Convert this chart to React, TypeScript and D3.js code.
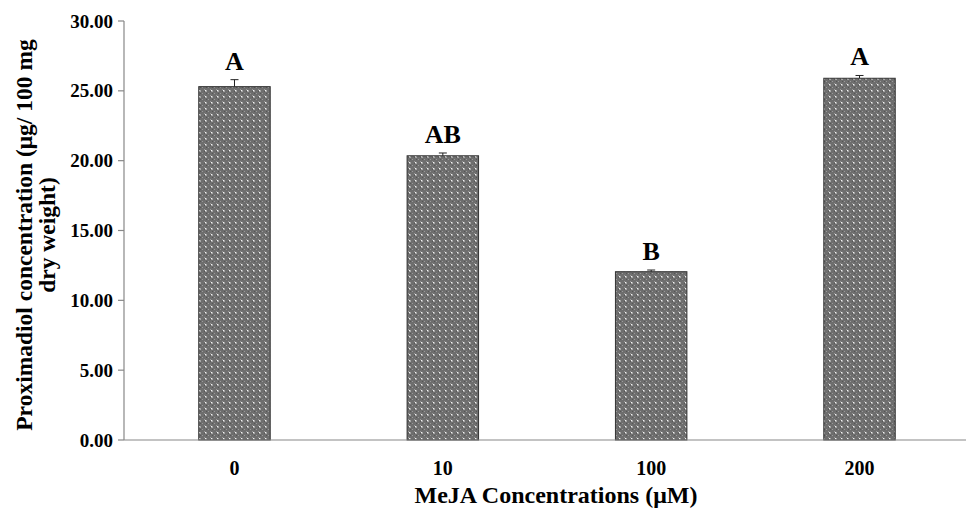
import React from "react"
import * as d3 from "d3"

const categories = ["0", "10", "100", "200"]
const means = [25.3, 20.35, 12.05, 25.9]
const errors = [0.5, 0.2, 0.12, 0.2]
const letters = ["A", "AB", "B", "A"]
const yTicks = [0, 5, 10, 15, 20, 25, 30]

const App = () => {
  const W = 971
  const H = 511
  const margin = { top: 21, right: 4, bottom: 71, left: 124 }
  const width = W - margin.left - margin.right
  const height = H - margin.top - margin.bottom

  const x = d3.scaleBand().domain(categories).range([6, width - 3]).paddingInner(0.657).paddingOuter(0.33)
  const y = d3.scaleLinear().domain([0, 30]).range([height, 0])
  const font = "'Liberation Serif', 'Times New Roman', serif"
  const axisColor = "#888"

  return (
    <svg width={W} height={H} style={{ position: "absolute", left: 0, top: 0, background: "#fff" }}>
      <defs>
        <pattern id="dots" width="6" height="6" patternUnits="userSpaceOnUse">
          <rect width="6" height="6" fill="#6e6e6e" />
          <rect x="0" y="0" width="1" height="1" fill="#9a9a9a" />
          <rect x="2" y="2" width="1" height="1" fill="#9a9a9a" />
          <rect x="4" y="4" width="1" height="1" fill="#9a9a9a" />
          <rect x="2" y="4" width="1" height="1" fill="#555" />
          <rect x="4" y="0" width="1" height="1" fill="#555" />
          <rect x="3" y="3" width="1.4" height="1.4" fill="#f4f4f4" />
        </pattern>
      </defs>
      <g transform={`translate(${margin.left},${margin.top})`}>
        {categories.map((c, i) => {
          const bx = x(c)!
          const bw = x.bandwidth()
          const cx = bx + bw / 2
          const top = y(means[i])
          const et = y(means[i] + errors[i])
          return (
            <g key={c}>
              <rect x={bx} y={top} width={bw} height={height - top} fill="url(#dots)" stroke="#333" strokeWidth={1} />
              <line x1={cx} x2={cx} y1={top} y2={et} stroke="#222" strokeWidth={1} />
              <line x1={cx - 4} x2={cx + 4} y1={et} y2={et} stroke="#222" strokeWidth={1} />
              <text x={cx} y={et - 10} textAnchor="middle" fontFamily={font} fontWeight="bold" fontSize={26}>
                {letters[i]}
              </text>
              <text x={cx} y={height + 35} textAnchor="middle" fontFamily={font} fontWeight="bold" fontSize={20}>
                {c}
              </text>
            </g>
          )
        })}
        <line x1={0} x2={0} y1={0} y2={height} stroke={axisColor} strokeWidth={1.2} />
        <line x1={0} x2={width - 1} y1={height} y2={height} stroke={axisColor} strokeWidth={1.2} />
        {yTicks.map((t) => (
          <g key={t} transform={`translate(0,${y(t)})`}>
            <line x1={-6} x2={0} stroke={axisColor} strokeWidth={1.2} />
            <text x={-11} dy="0.35em" textAnchor="end" fontFamily={font} fontWeight="bold" fontSize={19}>
              {d3.format(".2f")(t)}
            </text>
          </g>
        ))}
        <text x={556 - margin.left} y={height + 63} textAnchor="middle" fontFamily={font} fontWeight="bold" fontSize={24}>
          MeJA Concentrations (μM)
        </text>
        <text
          transform={`translate(${32 - margin.left},${235 - margin.top}) rotate(-90)`}
          textAnchor="middle"
          fontFamily={font}
          fontWeight="bold"
          fontSize={23.5}
        >
          <tspan x={0} dy={0}>Proximadiol concentration (μg/ 100 mg</tspan>
          <tspan x={0} dy={23}>dry weight)</tspan>
        </text>
      </g>
    </svg>
  )
}

export default App
